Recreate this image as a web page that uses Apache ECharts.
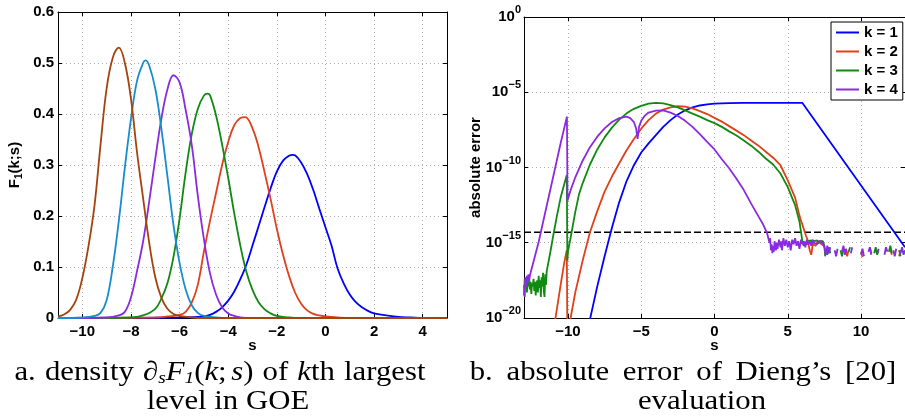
<!DOCTYPE html>
<html>
<head>
<meta charset="utf-8">
<script src="https://cdn.jsdelivr.net/npm/echarts@6/dist/echarts.min.js"></script>
<style>
  html, body { margin: 0; padding: 0; background: #fff; }
  #chart { width: 905px; height: 420px; }
</style>
</head>
<body>
<div id="chart"></div>
<script>
// ---- panel a: density of the k-th largest GOE level, pairs [s, density] ----
const densityK1 = [[-11,0],[-6,0.001],[-5,0.003],[-4.75,0.006],[-4.5,0.012],[-4.25,0.021],[-4,0.034],[-3.75,0.052],[-3.5,0.076],[-3.25,0.105],[-3,0.142],[-2.75,0.18],[-2.5,0.218],[-2.25,0.255],[-2,0.287],[-1.75,0.308],[-1.5,0.318],[-1.35,0.32],[-1.25,0.319],[-1,0.305],[-0.75,0.282],[-0.5,0.251],[-0.25,0.214],[0,0.178],[0.25,0.142],[0.5,0.097],[0.75,0.068],[1,0.046],[1.25,0.031],[1.5,0.021],[1.75,0.014],[2,0.009],[2.5,0.005],[3,0.002],[3.5,0.001],[4,0],[5,0]];
const densityK2 = [[-11,0],[-7,0.001],[-6.5,0.003],[-6,0.006],[-5.75,0.012],[-5.5,0.03],[-5.25,0.065],[-5,0.13],[-4.75,0.19],[-4.5,0.245],[-4.25,0.3],[-4,0.345],[-3.75,0.378],[-3.5,0.392],[-3.3,0.394],[-3,0.372],[-2.75,0.335],[-2.5,0.285],[-2.25,0.232],[-2,0.175],[-1.75,0.125],[-1.5,0.083],[-1.25,0.05],[-1,0.028],[-0.75,0.015],[-0.5,0.008],[-0.25,0.005],[0,0.003],[0.5,0.001],[1,0],[5,0]];
const densityK3 = [[-11,0],[-8,0.001],[-7.5,0.005],[-7,0.018],[-6.75,0.038],[-6.5,0.068],[-6.25,0.12],[-6,0.195],[-5.75,0.285],[-5.5,0.36],[-5.25,0.41],[-5,0.436],[-4.85,0.44],[-4.75,0.437],[-4.5,0.397],[-4.25,0.34],[-4,0.275],[-3.75,0.205],[-3.5,0.142],[-3.25,0.09],[-3,0.055],[-2.75,0.031],[-2.5,0.017],[-2.25,0.009],[-2,0.004],[-1.5,0.001],[-1,0],[5,0]];
const densityK4 = [[-11,0],[-9,0.001],[-8.5,0.005],[-8.25,0.012],[-8,0.04],[-7.75,0.092],[-7.5,0.15],[-7.25,0.228],[-7,0.312],[-6.75,0.39],[-6.5,0.448],[-6.25,0.476],[-6,0.462],[-5.75,0.408],[-5.5,0.34],[-5.25,0.24],[-5,0.155],[-4.75,0.088],[-4.5,0.046],[-4.25,0.021],[-4,0.009],[-3.75,0.004],[-3.5,0.001],[-3,0],[5,0]];
const densityK5 = [[-11,0],[-10,0.001],[-9.5,0.004],[-9.25,0.01],[-9,0.035],[-8.75,0.1],[-8.5,0.19],[-8.25,0.295],[-8,0.39],[-7.75,0.465],[-7.5,0.5],[-7.4,0.505],[-7.25,0.495],[-7,0.45],[-6.75,0.372],[-6.5,0.278],[-6.25,0.182],[-6,0.108],[-5.75,0.056],[-5.5,0.025],[-5.25,0.01],[-5,0.004],[-4.5,0.001],[-4,0],[5,0]];
const densityK6 = [[-11,0.003],[-10.75,0.007],[-10.5,0.016],[-10.25,0.036],[-10,0.078],[-9.75,0.14],[-9.5,0.22],[-9.25,0.34],[-9,0.45],[-8.75,0.51],[-8.5,0.53],[-8.25,0.5],[-8,0.43],[-7.75,0.325],[-7.5,0.235],[-7.25,0.148],[-7,0.08],[-6.75,0.04],[-6.5,0.018],[-6.25,0.008],[-6,0.004],[-5.5,0.001],[-5,0],[5,0]];

const densityTicksX = [-10, -8, -6, -4, -2, 0, 2, 4];

// ---- panel b: absolute error, pairs [s, log10(error)]; null = gap ----
const errK1 = [[-8.7,-20.6],[-8.5,-20.1],[-8,-17.9],[-7.5,-15.9],[-7,-14.0],[-6.5,-12.3],[-6,-10.9],[-5.5,-9.85],[-5,-9.0],[-4.5,-8.4],[-4,-7.85],[-3.5,-7.3],[-3,-6.85],[-2.5,-6.48],[-2,-6.2],[-1.5,-6.0],[-1,-5.88],[-0.5,-5.8],[0,-5.75],[1,-5.72],[2,-5.71],[4,-5.71],[6,-5.71],[6.1,-5.73],[13,-15.3]];
const errK2 = [[-10.95,-20.6],[-10.84,-19.93],[-10.5,-17.8],[-10.25,-16.3],[-10.08,-15.5],[-10.04,-21],[-9.82,-20.0],[-9.5,-18.3],[-9,-16.2],[-8.5,-14.3],[-8,-12.9],[-7.5,-11.6],[-7,-10.6],[-6.5,-9.72],[-6,-8.85],[-5.5,-8.1],[-5,-7.42],[-4.5,-6.85],[-4,-6.42],[-3.5,-6.15],[-3,-6.0],[-2.5,-5.93],[-2,-5.95],[-1.5,-6.07],[-1,-6.25],[-0.5,-6.45],[0,-6.7],[0.5,-6.95],[1,-7.25],[1.5,-7.55],[2,-7.85],[2.5,-8.2],[3,-8.55],[3.5,-8.95],[4,-9.35],[4.5,-9.85],[5,-10.85],[5.5,-12.0],[5.75,-13.0],[5.9,-13.55],[6.0,-13.8],[6.1,-14.1],[6.23,-14.5],[6.35,-14.8],[6.5,-15.5],[6.6,-15.8],[6.65,-15.5],[6.7,-15.1],[6.8,-15.0],[6.9,-15.2],[7.0,-15.0],[7.1,-15.1],[7.2,-14.95],[7.3,-15.1],[7.4,-15.0],[7.5,-15.2],[7.6,null],[8.95,-15.4],[9.05,-15.9],[9.15,-15.5],[9.25,null],[10.0,-15.6],[10.1,-15.95],[10.2,null],[10.6,-15.3],[10.7,-15.7],[10.8,null],[12.0,-15.4],[12.1,-15.8],[12.2,null],[12.6,-15.9],[12.7,-15.5],[12.8,null]];
const errK3 = [[-13,-18.5],[-12.95,-17.4],[-12.9,-18.0],[-12.85,-17.5],[-12.8,-18.3],[-12.75,-17.6],[-12.7,-17.9],[-12.65,-17.3],[-12.6,-18.1],[-12.55,-17.6],[-12.5,-18.4],[-12.45,-17.7],[-12.4,-17.9],[-12.35,-17.4],[-12.3,-18.2],[-12.25,-17.6],[-12.2,-18.5],[-12.15,-17.8],[-12.1,-17.5],[-12.05,-18.3],[-12.0,-17.2],[-11.95,-18.0],[-11.9,-17.5],[-11.85,-18.6],[-11.8,-17.3],[-11.75,-17.9],[-11.7,-17.0],[-11.65,-18.2],[-11.6,-18.6],[-11.55,-17.1],[-11.5,-17.8],[-11.45,-16.9],[-11.4,-17.0],[-11.2,-15.6],[-11,-14.5],[-10.75,-13.2],[-10.5,-12.0],[-10.25,-11.1],[-10.08,-10.5],[-10.04,-16.2],[-10.0,-15.6],[-9.75,-14.3],[-9.5,-12.95],[-9.25,-11.8],[-9,-11.05],[-8.5,-9.8],[-8,-8.8],[-7.5,-8.0],[-7,-7.35],[-6.5,-6.82],[-6,-6.4],[-5.5,-6.1],[-5,-5.9],[-4.5,-5.76],[-4,-5.71],[-3.5,-5.74],[-3,-5.85],[-2.5,-6.0],[-2,-6.2],[-1.5,-6.42],[-1,-6.62],[-0.5,-6.85],[0,-7.05],[0.5,-7.3],[1,-7.6],[1.5,-7.88],[2,-8.2],[2.5,-8.55],[3,-8.95],[3.5,-9.4],[4,-9.8],[4.5,-10.4],[5,-11.3],[5.5,-12.5],[5.8,-13.6],[5.95,-14.6],[6.0,-15.0],[6.05,-14.9],[6.1,-15.2],[6.2,-14.95],[6.3,-15.1],[6.4,-14.9],[6.5,-15.0],[6.6,-14.85],[6.7,-15.05],[6.8,-14.9],[6.9,-15.0],[7.0,-14.85],[7.1,-15.05],[7.2,-14.9],[7.3,-15.0],[7.4,-14.9],[7.5,-15.2],[7.55,-15.9],[7.6,-15.4],[7.7,-15.8],[7.8,-15.3],[7.9,-15.7],[8.0,null],[8.6,-15.5],[8.7,-15.9],[8.8,-15.4],[8.9,null],[9.15,-15.6],[9.25,-15.3],[9.35,null],[10.9,-15.7],[11.0,-15.3],[11.1,-15.8],[11.2,-15.5],[11.3,null],[11.9,-15.6],[12.0,-15.2],[12.1,-15.7],[12.2,null],[12.6,-15.5],[12.7,-15.9],[12.8,null]];
const errK4 = [[-13,-17.8],[-12.95,-18.6],[-12.9,-17.3],[-12.85,-17.9],[-12.8,-17.2],[-12.75,-17.6],[-12.7,-17.1],[-12.65,-17.5],[-12.6,-17.2],[-12.55,-17.0],[-12.5,-16.9],[-12,-14.95],[-11.5,-12.76],[-11,-10.58],[-10.5,-8.39],[-10.07,-6.62],[-10.03,-12.2],[-9.8,-11.45],[-9.5,-10.65],[-9,-9.55],[-8.5,-8.65],[-8,-7.95],[-7.5,-7.4],[-7,-6.98],[-6.5,-6.72],[-6,-6.62],[-5.75,-6.72],[-5.5,-6.98],[-5.35,-7.4],[-5.25,-8.1],[-5.15,-7.3],[-5,-6.9],[-4.75,-6.55],[-4.5,-6.35],[-4,-6.22],[-3.5,-6.2],[-3,-6.35],[-2.5,-6.58],[-2,-6.9],[-1.5,-7.3],[-1,-7.78],[-0.5,-8.3],[0,-8.8],[0.5,-9.45],[1,-10.05],[1.5,-10.75],[2,-11.5],[2.5,-12.4],[3,-13.25],[3.3,-13.75],[3.6,-14.4],[3.65,-14.4],[3.75,-15.0],[3.8,-14.7],[3.85,-15.5],[3.9,-15.1],[3.95,-15.7],[4.0,-15.2],[4.05,-15.6],[4.1,-14.9],[4.2,-15.5],[4.25,-15.0],[4.3,-15.4],[4.4,-14.8],[4.5,-15.3],[4.55,-14.9],[4.6,-15.5],[4.7,-14.7],[4.8,-15.2],[4.9,-14.8],[5.0,-15.3],[5.1,-14.9],[5.2,-15.5],[5.3,-14.8],[5.4,-15.1],[5.5,-14.7],[5.6,-15.2],[5.7,-14.9],[5.8,-15.4],[5.9,-14.8],[6.0,-15.1],[6.1,-14.9],[6.2,-15.3],[6.3,-14.8],[6.4,-15.1],[6.5,-14.9],[6.6,-15.2],[6.7,-14.8],[6.8,-15.0],[6.9,-14.9],[7.0,-15.1],[7.1,-14.9],[7.2,-15.0],[7.3,-14.9],[7.4,-15.1],[7.5,-15.3],[7.6,-15.8],[7.7,-15.2],[7.8,-15.7],[7.9,-15.3],[8.0,null],[8.2,-15.5],[8.3,-15.9],[8.4,-15.4],[8.5,null],[8.7,-15.6],[8.8,-15.2],[8.9,-15.8],[9.0,-15.4],[9.1,null],[9.3,-15.7],[9.4,-15.3],[9.5,null],[10.0,-15.8],[10.1,-15.4],[10.2,-15.9],[10.3,null],[10.5,-15.6],[10.6,-15.3],[10.7,-15.8],[10.8,null],[11.1,-15.7],[11.2,-15.4],[11.3,null],[11.6,-15.8],[11.7,-15.3],[11.8,-15.6],[11.9,null],[12.2,-15.5],[12.3,-15.9],[12.4,-15.4],[12.5,null],[12.7,-15.7],[12.8,-15.3],[12.9,-15.8],[13.0,-15.5]];
const roundoffLevel = [[-13,-14.3],[13,-14.3]];

const errorTicksX = [-10, -5, 0, 5, 10];
const legendNames = ['k = 1', 'k = 2', 'k = 3', 'k = 4'];

// ---- styling ----
const colors = {
  k1: '#0000ff', k2: '#e0401a', k3: '#108a10', k4: '#8a2be2',
  k5: '#188dcc', k6: '#a3430e'
};
const sans = '"Liberation Sans", Arial, Helvetica, sans-serif';
const serif = '"Liberation Serif", "Times New Roman", serif';

const minusFmt = v => (v < 0 ? '\u2212' + (-v) : String(v));
const toPow = arr => arr.map(p => [p[0], p[1] === null ? '-' : Math.pow(10, p[1])]);

const gridLine = { show: true, lineStyle: { color: '#b0b0b0', type: [1, 3], width: 1 } };
const blackLine = { show: true, onZero: false, lineStyle: { color: '#000', width: 1 } };
const tickIn = vals => ({ show: true, inside: true, length: 4, lineStyle: { color: '#000' }, customValues: vals });
const tickLbl = { fontFamily: sans, fontWeight: 'bold', fontSize: 15, color: '#000' };
const sName = { fontFamily: sans, fontWeight: 'bold', fontSize: 15, color: '#000' };

function lineSeries(name, data, color, xi, yi, extra) {
  return Object.assign({
    name, type: 'line', data, xAxisIndex: xi, yAxisIndex: yi,
    showSymbol: false, symbol: 'none', clip: true, connectNulls: false,
    lineStyle: { color, width: 1.8 }, itemStyle: { color },
    emphasis: { disabled: true }, silent: true, z: 3
  }, extra || {});
}

// caption text: Times glyphs widened horizontally to a book-serif proportion
const capSize = 27;
const capStretch = 1.14;
const capRich = {
  r: { fontFamily: serif, fontSize: capSize, lineHeight: 30, fill: '#000' },
  i: { fontFamily: serif, fontStyle: 'italic', fontSize: capSize, lineHeight: 30, fill: '#000' },
  u: { fontFamily: serif, fontStyle: 'italic', fontSize: 17, lineHeight: 17, padding: [12, 0, 0, 0], fill: '#000' },
  g: { fontFamily: serif, fontSize: capSize, lineHeight: 30, width: 8 },
  h: { fontFamily: serif, fontSize: capSize, lineHeight: 30, width: 4 },
  w: { fontFamily: serif, fontSize: capSize, lineHeight: 30, width: 12 }
};
function caption(x, y, text) {
  return {
    type: 'text', x, y, scaleX: capStretch, scaleY: 1, silent: true,
    style: { text, align: 'center', verticalAlign: 'middle', rich: capRich }
  };
}

const chart = echarts.init(document.getElementById('chart'), null, { renderer: 'canvas' });

const option = {
  animation: false,
  backgroundColor: '#fff',
  grid: [
    { left: 58, top: 12, width: 389, height: 306, show: false, outerBoundsMode: 'none' },
    { left: 524, top: 17, width: 381, height: 301, show: false, outerBoundsMode: 'none' }
  ],
  xAxis: [
    {
      gridIndex: 0, type: 'value', min: -11, max: 5,
      axisLine: blackLine, axisTick: tickIn(densityTicksX),
      axisLabel: Object.assign({ customValues: densityTicksX, formatter: minusFmt, margin: 6 }, tickLbl),
      splitLine: gridLine,
      name: 's', nameLocation: 'middle', nameGap: 20, nameMoveOverlap: false, nameTextStyle: sName
    },
    {
      gridIndex: 0, type: 'value', min: -11, max: 5, position: 'top',
      axisLine: blackLine, axisTick: tickIn(densityTicksX), axisLabel: { show: false, customValues: densityTicksX },
      splitLine: { show: false }
    },
    {
      gridIndex: 1, type: 'value', min: -13, max: 13,
      axisLine: blackLine, axisTick: tickIn(errorTicksX),
      axisLabel: Object.assign({ customValues: errorTicksX, formatter: minusFmt, margin: 6 }, tickLbl),
      splitLine: gridLine,
      name: 's', nameLocation: 'middle', nameGap: 20, nameMoveOverlap: false, nameTextStyle: sName
    },
    {
      gridIndex: 1, type: 'value', min: -13, max: 13, position: 'top',
      axisLine: blackLine, axisTick: tickIn(errorTicksX), axisLabel: { show: false, customValues: errorTicksX },
      splitLine: { show: false }
    }
  ],
  yAxis: [
    {
      gridIndex: 0, type: 'value', min: 0, max: 0.6, interval: 0.1,
      axisLine: blackLine,
      axisTick: { show: true, inside: true, length: 4, lineStyle: { color: '#000' } },
      axisLabel: Object.assign({ margin: 4, formatter: v => (v === 0 ? '0' : v.toFixed(1)) }, tickLbl),
      splitLine: gridLine,
      name: '{b|F}{s|1}{b|(k;s)}', nameLocation: 'middle', nameGap: 36, nameRotate: 90, nameMoveOverlap: false,
      nameTextStyle: {
        rich: {
          b: { fontFamily: sans, fontWeight: 'bold', fontSize: 15, lineHeight: 15, color: '#000' },
          s: { fontFamily: sans, fontWeight: 'bold', fontSize: 10, lineHeight: 10, padding: [9, 0, 0, 0], color: '#000' }
        }
      }
    },
    {
      gridIndex: 0, type: 'value', min: 0, max: 0.6, interval: 0.1, position: 'right',
      axisLine: blackLine,
      axisTick: { show: true, inside: true, length: 4, lineStyle: { color: '#000' } },
      axisLabel: { show: false }, splitLine: { show: false }
    },
    {
      gridIndex: 1, type: 'log', logBase: 10, min: 1e-20, max: 1, interval: 5, splitNumber: 4,
      axisLine: blackLine,
      axisTick: { show: true, inside: true, length: 4, lineStyle: { color: '#000' } },
      axisLabel: {
        margin: 3,
        formatter: v => {
          const n = Math.round(Math.log10(v));
          return '{b|10}{s|' + (n < 0 ? '\u2212' + (-n) : n) + '}';
        },
        rich: {
          b: { fontFamily: sans, fontWeight: 'bold', fontSize: 15, lineHeight: 15, color: '#000' },
          s: { fontFamily: sans, fontWeight: 'bold', fontSize: 11, lineHeight: 11, padding: [0, 0, 14, 0], color: '#000' }
        }
      },
      splitLine: gridLine,
      name: 'absolute error', nameLocation: 'middle', nameGap: 41, nameRotate: 90, nameMoveOverlap: false,
      nameTextStyle: sName
    },
    {
      gridIndex: 1, type: 'log', logBase: 10, min: 1e-20, max: 1, interval: 5, splitNumber: 4, position: 'right',
      axisLine: blackLine,
      axisTick: { show: true, inside: true, length: 4, lineStyle: { color: '#000' } },
      axisLabel: { show: false }, splitLine: { show: false }
    }
  ],
  legend: {
    data: legendNames,
    orient: 'vertical', left: 831, top: 22,
    backgroundColor: '#fff', borderColor: '#000', borderWidth: 1, borderRadius: 0,
    padding: [3, 5, 3, 5], itemGap: 4, itemWidth: 23, itemHeight: 2, icon: 'rect',
    selectedMode: false,
    textStyle: { fontFamily: sans, fontWeight: 'bold', fontSize: 15, lineHeight: 15, color: '#000' }
  },
  series: [
    lineSeries('density k1', densityK1, colors.k1, 0, 0, { smooth: 0.4 }),
    lineSeries('density k2', densityK2, colors.k2, 0, 0, { smooth: 0.4 }),
    lineSeries('density k3', densityK3, colors.k3, 0, 0, { smooth: 0.4 }),
    lineSeries('density k4', densityK4, colors.k4, 0, 0, { smooth: 0.4 }),
    lineSeries('density k5', densityK5, colors.k5, 0, 0, { smooth: 0.4 }),
    lineSeries('density k6', densityK6, colors.k6, 0, 0, { smooth: 0.4 }),
    lineSeries('roundoff', toPow(roundoffLevel), '#000', 2, 2,
      { lineStyle: { color: '#000', width: 1.6, type: [7, 3] }, z: 2 }),
    lineSeries(legendNames[0], toPow(errK1), colors.k1, 2, 2),
    lineSeries(legendNames[1], toPow(errK2), colors.k2, 2, 2),
    lineSeries(legendNames[2], toPow(errK3), colors.k3, 2, 2),
    lineSeries(legendNames[3], toPow(errK4), colors.k4, 2, 2)
  ],
  graphic: [
    caption(220, 373, '{r|a.}{g| }{r|density}{g| }{i|\u2202}{u|s}{i|F}{u|1}{r|(}{i|k}{r|;}{h| }{i|s}{r|)}{g| }{r|of}{g| }{i|k}{r|th}{g| }{r|largest}'),
    caption(228, 402, '{r|level in GOE}'),
    caption(683, 373, '{r|b.}{w| }{r|absolute}{w| }{r|error}{w| }{r|of}{w| }{r|Dieng\u2019s}{w| }{r|[20]}'),
    caption(702, 402, '{r|evaluation}')
  ]
};

chart.setOption(option);
</script>
</body>
</html>
